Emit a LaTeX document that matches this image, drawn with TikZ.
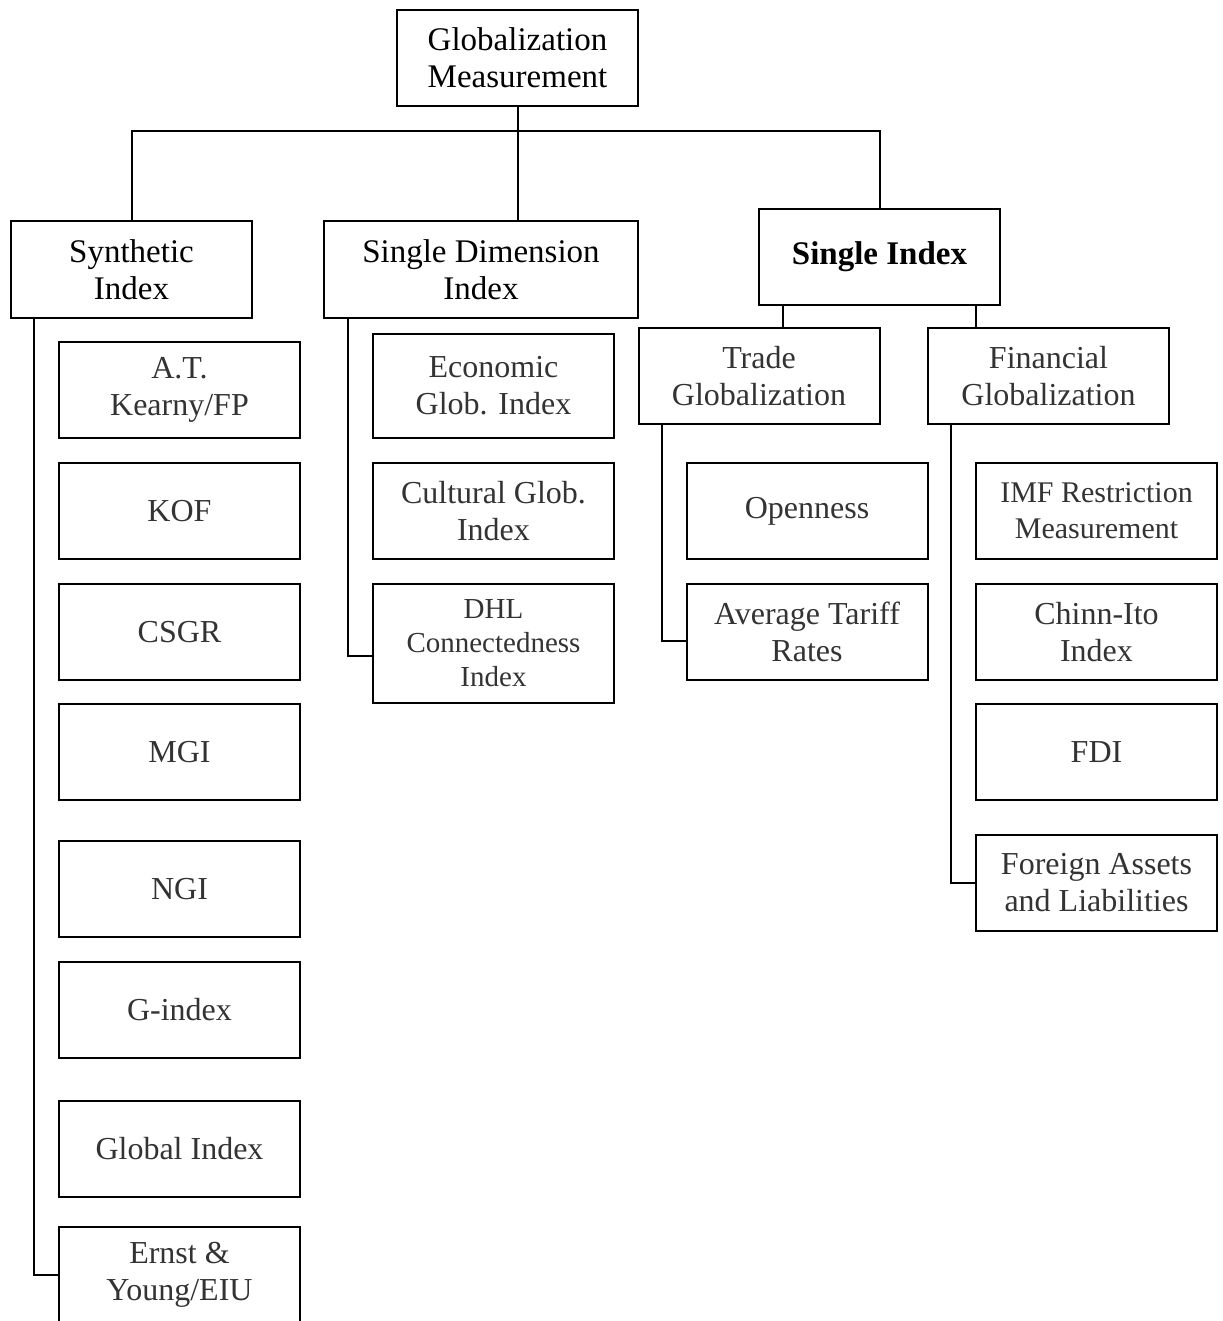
\documentclass[tikz,border=0pt]{standalone}
\usepackage{fontspec}
\setmainfont{Liberation Serif}
\usetikzlibrary{positioning}

\tikzset{
  box/.style={draw, line width=1pt, align=center, inner sep=0pt,
    minimum width=120.5pt, minimum height=48pt},
  head/.style={box, text=black, font=\fontsize{16.5}{18.5}\selectfont},
  leaf/.style={box, text=black!80, font=\fontsize{16}{18.5}\selectfont},
  link/.style={line width=1pt},
}

\begin{document}
\begin{tikzpicture}[x=0.5pt,y=-0.5pt]
  \useasboundingbox (0,0) rectangle (1222,1321);
  % top levels
  \node[head] (root) at (517.5,58) {Globalization\\Measurement};
  \node[head] (synth) at (131.5,269.5) {Synthetic\\Index};
  \node[head, minimum width=157pt] (dimen) at (481,269.5) {Single Dimension\\Index};
  \node[head, font=\bfseries\fontsize{16.5}{18.5}\selectfont] (single) at (879.5,257) {Single Index};
  \node[leaf] (trade) at (759,376) {Trade\\Globalization};
  \node[leaf] (fin) at (1048.5,376) {Financial\\Globalization};
  \coordinate (hub) at (517.5,131);
  \draw[link] (root.south) -- (hub) -| (synth.north);
  \draw[link] (hub) -| (single.north);
  \draw[link] (hub) -- (hub |- dimen.north);
  \draw[link] ([xshift=-48.25pt]single.south) -- ([xshift=-48.25pt]single.south |- trade.north);
  \draw[link] ([xshift=48.25pt]single.south) -- ([xshift=48.25pt]single.south |- fin.north);
  % synthetic index
  \node[leaf] (kearny) at (179.5,390) {A.T.\\Kearny/FP};
  \node[leaf] (kof) at (179.5,511) {KOF};
  \node[leaf] (csgr) at (179.5,632) {CSGR};
  \node[leaf] (mgi) at (179.5,752) {MGI};
  \node[leaf] (ngi) at (179.5,889) {NGI};
  \node[leaf] (gindex) at (179.5,1010) {G-index};
  \node[leaf] (global) at (179.5,1149) {Global Index};
  \node[leaf] (ernst) at (179.5,1275) {Ernst \&\\Young/EIU};
  \draw[link] ([xshift=12pt]synth.south west) |- (ernst.west);
  % single dimension
  \node[leaf, minimum height=52pt] (econ) at (493.5,386) {Economic\\Glob. Index};
  \node[leaf] (cult) at (493.5,511) {Cultural Glob.\\Index};
  \node[leaf, minimum height=59.5pt, font=\fontsize{14.5}{17}\selectfont] (dhl) at (493.5,643.5) {DHL\\Connectedness\\Index};
  \draw[link] ([xshift=12.5pt]dimen.south west) |- ([yshift=-6pt]dhl.west);
  % trade
  \node[leaf] (open) at (807,511) {Openness};
  \node[leaf] (tariff) at (807,632) {Average Tariff\\Rates};
  \draw[link] ([xshift=12pt]trade.south west) |- ([yshift=-4.5pt]tariff.west);
  % financial
  \node[leaf, font=\fontsize{15}{18}\selectfont] (imf) at (1096.5,511) {IMF Restriction\\Measurement};
  \node[leaf] (chinn) at (1096.5,632) {Chinn-Ito\\Index};
  \node[leaf] (fdi) at (1096.5,752) {FDI};
  \node[leaf] (assets) at (1096.5,883) {Foreign Assets\\and Liabilities};
  \draw[link] ([xshift=12pt]fin.south west) |- (assets.west);
\end{tikzpicture}
\end{document}
